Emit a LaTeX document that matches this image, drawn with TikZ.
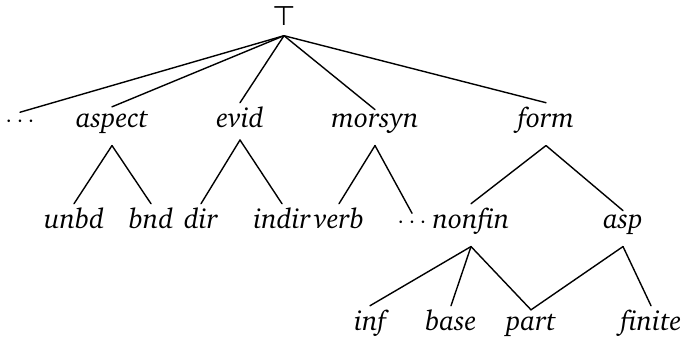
\documentclass[tikz,border=0pt]{standalone}
\usepackage[T1]{fontenc}
\usepackage{fontspec}
\newfontfamily\symfam{DejaVu Sans}
\usetikzlibrary{calc}
\newcommand{\charterit}{\fontencoding{T1}\fontfamily{bch}\fontsize{28}{32}\selectfont\itshape}
\tikzset{
  lab/.style={anchor=base, inner xsep=0pt, inner ysep=3.5pt, font=\charterit},
  branch/.style={line width=1.4pt, line cap=round}
}
\newcommand{\treebr}[2]{\draw[branch] ($(#1.south)+(0,9)$) -- (#2.north);}
\begin{document}
\begin{tikzpicture}[x=1pt,y=-1pt]
\useasboundingbox (0,0) rectangle (684,341);
% root
\node[lab, inner ysep=1.5pt, font=\symfam\fontsize{27}{30}\selectfont] (top) at (284,25) {⊤};
% level 1
\node[lab] (dotsA) at (20,127) {$\cdots$};
\node[lab] (aspect) at (112,127) {aspect};
\node[lab] (evid) at (240,127) {evid};
\node[lab] (morsyn) at (375,127) {morsyn};
\node[lab] (form) at (546,127) {form};
% level 2
\node[lab] (unbd) at (74,228) {unbd};
\node[lab] (bnd) at (151,228) {bnd};
\node[lab] (dir) at (201,228) {dir};
\node[lab] (indir) at (282,228) {indir};
\node[lab] (verb) at (339,228) {verb};
\node[lab] (dotsB) at (412,228) {$\cdots$};
\node[lab] (nonfin) at (471,228) {nonfin};
\node[lab] (asp) at (623,228) {asp};
% level 3
\node[lab] (inf) at (370,330) {inf};
\node[lab] (base) at (451,330) {base};
\node[lab] (part) at (531,330) {part};
\node[lab] (finite) at (651,330) {finite};
% branches
\treebr{top}{dotsA}
\treebr{top}{aspect}
\treebr{top}{evid}
\treebr{top}{morsyn}
\treebr{top}{form}
\treebr{aspect}{unbd}
\treebr{aspect}{bnd}
\treebr{evid}{dir}
\treebr{evid}{indir}
\treebr{morsyn}{verb}
\treebr{morsyn}{dotsB}
\treebr{form}{nonfin}
\treebr{form}{asp}
\treebr{nonfin}{inf}
\treebr{nonfin}{base}
\treebr{nonfin}{part}
\treebr{asp}{part}
\treebr{asp}{finite}
\end{tikzpicture}
\end{document}
